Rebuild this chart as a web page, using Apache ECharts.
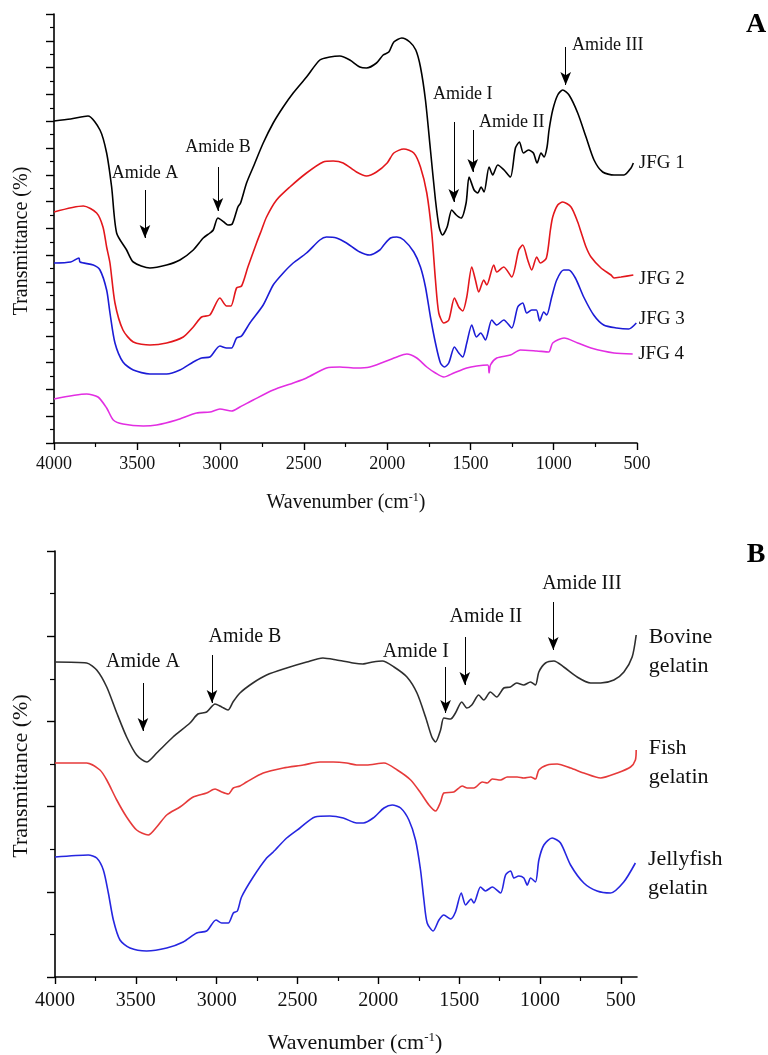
<!DOCTYPE html>
<html>
<head>
<meta charset="utf-8">
<script src="https://cdn.jsdelivr.net/npm/echarts@6/dist/echarts.min.js"></script>
<style>html,body{margin:0;padding:0;background:#fff;}#c{width:768px;height:1055px;}</style>
</head>
<body>
<div id="c"></div>
<script>
// ---------- Panel A data: [wavenumber (cm-1), transmittance (arb. units)] ----------
const jfg1 = [[4000,322],[3900,324],[3796,327],[3724,313],[3684,290],[3654,256],[3624,210],[3564,193],[3524,181],[3424,175],[3324,178],[3244,183],[3164,193],[3104,205],[3064,210],[3044,213],[3016,225],[2980,221],[2956,218],[2930,219],[2896,236],[2880,240],[2844,260],[2804,276],[2744,300],[2684,320],[2624,336],[2564,350],[2484,366],[2404,383],[2344,386],[2284,387],[2224,383],[2164,376],[2124,375],[2064,380],[2024,388],[1990,391],[1960,401],[1912,405],[1864,401],[1828,393],[1800,376],[1770,343],[1740,293],[1710,243],[1688,216],[1668,208],[1640,216],[1612,233],[1585,228],[1556,225],[1526,240],[1508,266],[1478,253],[1456,250],[1436,256],[1418,251],[1388,276],[1366,268],[1336,278],[1298,273],[1260,266],[1230,295],[1206,301],[1182,290],[1152,293],[1122,290],[1100,280],[1076,290],[1058,286],[1040,296],[1028,313],[1006,333],[976,348],[946,353],[908,348],[856,330],[806,306],[758,283],[706,271],[638,268],[578,268],[536,275],[522,280]];
const jfg2 = [[4000,231],[3824,237],[3744,230],[3706,216],[3684,196],[3664,180],[3634,140],[3586,113],[3524,101],[3424,98],[3324,100],[3224,106],[3164,116],[3114,126],[3064,128],[3004,145],[2964,137],[2938,137],[2904,155],[2874,157],[2836,176],[2784,200],[2754,213],[2724,226],[2664,243],[2584,256],[2484,270],[2384,281],[2324,282],[2264,280],[2184,271],[2124,267],[2064,271],[2000,280],[1960,290],[1900,294],[1840,290],[1800,276],[1762,250],[1732,210],[1710,163],[1690,130],[1660,120],[1630,123],[1596,145],[1570,136],[1546,132],[1522,146],[1492,176],[1470,163],[1450,151],[1420,163],[1402,158],[1360,178],[1342,171],[1300,176],[1252,166],[1210,193],[1186,198],[1156,183],[1132,173],[1102,186],[1080,180],[1044,185],[1020,213],[1006,226],[976,238],[946,241],[896,236],[856,221],[836,211],[806,196],[776,186],[716,175],[656,168],[638,165],[596,166],[522,168]];
const jfg3 = [[4000,180],[3900,181],[3850,185],[3844,181],[3764,178],[3724,173],[3684,153],[3664,130],[3634,100],[3586,81],[3524,73],[3424,69],[3324,69],[3244,73],[3164,81],[3114,85],[3064,86],[3004,97],[2964,95],[2934,95],[2904,105],[2874,107],[2824,120],[2744,138],[2684,158],[2624,170],[2564,180],[2484,190],[2404,203],[2364,206],[2304,205],[2244,200],[2164,191],[2104,188],[2044,193],[2020,198],[1980,205],[1942,206],[1900,203],[1840,191],[1800,176],[1770,156],[1740,126],[1710,100],[1680,80],[1656,76],[1630,80],[1596,96],[1570,90],[1546,86],[1522,100],[1492,118],[1464,106],[1438,110],[1410,103],[1372,123],[1342,118],[1300,123],[1252,115],[1216,136],[1186,140],[1162,130],[1132,133],[1104,133],[1084,122],[1060,131],[1042,128],[1012,146],[982,163],[940,173],[910,173],[870,165],[820,146],[760,128],[700,118],[622,115],[550,114],[504,120]];
const jfg4 = [[4000,44],[3804,49],[3736,46],[3684,35],[3644,23],[3586,19],[3464,17],[3384,18],[3264,23],[3144,30],[3064,31],[3004,34],[2934,32],[2884,36],[2804,43],[2684,53],[2564,60],[2484,65],[2364,75],[2284,76],[2184,75],[2104,76],[2020,81],[1942,86],[1882,89],[1822,85],[1762,76],[1710,70],[1660,66],[1600,70],[1522,75],[1462,77],[1396,78],[1388,70],[1380,78],[1342,85],[1260,88],[1200,93],[1102,92],[1030,91],[1006,100],[938,105],[856,100],[776,95],[638,90],[526,89]];

// ---------- Panel B data ----------
const bovine = [[4000,315],[3804,314],[3742,307],[3680,290],[3618,264],[3557,240],[3495,222],[3433,215],[3371,224],[3270,240],[3165,254],[3116,263],[3062,265],[3010,273],[2969,270],[2930,267],[2899,275],[2856,284],[2776,294],[2691,302],[2567,309],[2443,315],[2343,319],[2258,317],[2157,314],[2096,313],[2034,315],[1975,316],[1903,310],[1823,300],[1761,284],[1708,260],[1669,240],[1646,235],[1615,247],[1595,259],[1553,258],[1523,264],[1484,275],[1453,269],[1422,272],[1379,282],[1348,277],[1307,285],[1268,280],[1224,289],[1183,290],[1144,294],[1101,292],[1059,295],[1028,292],[1007,305],[966,314],[914,316],[853,310],[770,300],[687,294],[625,294],[543,297],[481,305],[430,320],[405,342]];
const fish = [[4000,214],[3804,214],[3722,207],[3680,197],[3618,177],[3557,160],[3495,147],[3423,142],[3371,150],[3309,162],[3227,170],[3145,180],[3062,184],[3010,188],[2969,185],[2928,183],[2897,189],[2856,191],[2815,195],[2712,204],[2588,209],[2464,212],[2361,215],[2279,215],[2196,214],[2134,212],[2073,212],[1965,214],[1883,207],[1800,197],[1738,184],[1687,172],[1646,166],[1615,175],[1595,184],[1533,185],[1481,191],[1450,189],[1409,189],[1357,195],[1326,194],[1295,198],[1244,197],[1203,200],[1141,200],[1100,199],[1058,200],[1028,198],[1007,207],[955,212],[894,213],[811,209],[729,204],[625,199],[522,204],[440,210],[410,217],[405,227]];
const jellyfish = [[4000,120],[3794,122],[3742,119],[3701,107],[3670,84],[3639,57],[3598,37],[3536,29],[3433,26],[3309,29],[3207,35],[3124,44],[3062,46],[3004,57],[2969,54],[2928,54],[2897,64],[2872,66],[2846,80],[2774,100],[2691,119],[2650,125],[2567,139],[2485,149],[2392,160],[2300,161],[2217,159],[2134,154],[2093,154],[2032,159],[1965,169],[1914,172],[1862,169],[1811,157],[1770,137],[1739,107],[1718,77],[1698,54],[1661,46],[1625,57],[1595,62],[1553,58],[1523,65],[1487,84],[1460,72],[1426,78],[1409,74],[1368,90],[1337,86],[1295,90],[1244,84],[1213,102],[1182,106],[1161,99],[1131,101],[1100,99],[1079,92],[1058,99],[1028,95],[1007,117],[976,132],[925,139],[873,134],[811,112],[729,94],[647,86],[564,84],[482,95],[410,114]];

// ---------- Tick labels ----------
const xTicksA = [500,1000,1500,2000,2500,3000,3500,4000];
const xTicksB = [500,1000,1500,2000,2500,3000,3500,4000];
const xMinorB = [750,1250,1750,2250,2750,3250,3750];

// ---------- Series names & label anchors [wavenumber, value] ----------
const namesA = ['JFG 1','JFG 2','JFG 3','JFG 4'];
const labelAnchorA = [[522,280],[522,164],[522,124],[526,89]];
const namesB = ['Bovine\ngelatin','Fish\ngelatin','Jellyfish\ngelatin'];
const labelAnchorB = [[405,325],[405,214],[410,103]];

// ---------- Annotations [text, textW, textV, arrowW, arrowFrom, arrowTo] ----------
const annotA = [
  ['Amide A',3454,270,3454,253,205],
  ['Amide B',3016,296,3016,276,232],
  ['Amide I',1546,349,1600,321,241],
  ['Amide II',1252,321,1486,313,271],
  ['Amide III',676,398,928,396,358]
];
const annotB = [
  ['Amide A',3456,315,3456,294,246],
  ['Amide B',2825,340,3029,322,274],
  ['Amide I',1768,325,1584,310,264],
  ['Amide II',1335,360,1465,340,292],
  ['Amide III',741,393,918,375,327]
];

const FONT = '"Liberation Serif","Times New Roman",serif';
const INK = '#111';
const plain = v => String(v);

function arrows(list){
  return {
    silent:true, symbol:['none','arrow'], symbolSize:[8,13], animation:false,
    lineStyle:{color:'#000',width:1,type:'solid'}, label:{show:false}, emphasis:{disabled:true},
    data: list.map(a=>[{coord:[a[3],a[4]]},{coord:[a[3],a[5]]}])
  };
}
function markPts(items){
  return {silent:true, symbol:'rect', symbolSize:1, animation:false, itemStyle:{color:'rgba(0,0,0,0)'},
    label:{show:true, formatter:'{b}', color:INK, fontFamily:FONT}, emphasis:{disabled:true}, data:items};
}

const colorsA = ['#000000','#e3171c','#1c1cd6','#e22ee2'];
const colorsB = ['#2e2e2e','#e63a3a','#2626e0'];
const dataA = [jfg1,jfg2,jfg3,jfg4];
const dataB = [bovine,fish,jellyfish];

const series = [];
dataA.forEach((d,i)=>{
  const pts = [{name:namesA[i], coord:labelAnchorA[i], label:{position:'right',distance:5,fontSize:19}}];
  if(i===0) annotA.forEach(a=>pts.push({name:a[0], coord:[a[1],a[2]], label:{position:'inside',fontSize:18}}));
  series.push({type:'line', name:namesA[i], xAxisIndex:0, yAxisIndex:0, data:d, showSymbol:false,
    smooth:0.25, lineStyle:{color:colorsA[i],width:1.6}, itemStyle:{color:colorsA[i]}, animation:false, silent:true,
    markPoint: markPts(pts), markLine: i===0 ? arrows(annotA) : undefined});
});
dataB.forEach((d,i)=>{
  const pts = [{name:namesB[i], coord:labelAnchorB[i], label:{position:'right',distance:12,fontSize:22,lineHeight:29,align:'left'}}];
  if(i===0) annotB.forEach(a=>pts.push({name:a[0], coord:[a[1],a[2]], label:{position:'inside',fontSize:20}}));
  series.push({type:'line', name:namesB[i].replace('\n',' '), xAxisIndex:1, yAxisIndex:1, data:d, showSymbol:false,
    smooth:0.25, lineStyle:{color:colorsB[i],width:1.6}, itemStyle:{color:colorsB[i]}, animation:false, silent:true,
    markPoint: markPts(pts), markLine: i===0 ? arrows(annotB) : undefined});
});

const axLine = {show:true, lineStyle:{color:'#000', width:1.6}};
const option = {
  animation:false,
  backgroundColor:'#fff',
  grid:[
    {left:54, top:14, width:583, height:429},
    {left:55, top:551, width:582, height:426}
  ],
  xAxis:[
    {type:'value', gridIndex:0, min:500, max:4000, interval:500, inverse:true, position:'bottom',
     axisLine:axLine, splitLine:{show:false},
     axisTick:{show:true, inside:false, length:7, lineStyle:{color:'#000',width:1.4}},
     minorTick:{show:true, splitNumber:2, length:4, lineStyle:{color:'#000',width:1.2}},
     axisLabel:{show:true, margin:12, color:INK, fontFamily:FONT, fontSize:18, showMinLabel:true, showMaxLabel:true,
       customValues:xTicksA, formatter:plain}},
    {type:'value', gridIndex:1, min:400, max:4000, inverse:true, position:'bottom',
     axisLine:axLine, splitLine:{show:false},
     axisTick:{show:true, inside:false, length:7, lineStyle:{color:'#000',width:1.4}, customValues:xTicksB},
     axisLabel:{show:true, margin:14, color:INK, fontFamily:FONT, fontSize:20, customValues:xTicksB, formatter:plain}},
    {type:'value', gridIndex:1, min:400, max:4000, inverse:true, position:'bottom',
     axisLine:{show:false}, splitLine:{show:false},
     axisTick:{show:true, inside:false, length:4, lineStyle:{color:'#000',width:1.2}, customValues:xMinorB},
     axisLabel:{show:false}}
  ],
  yAxis:[
    {type:'value', gridIndex:0, min:0, max:429, interval:26.8125, position:'left',
     axisLine:axLine, splitLine:{show:false}, axisLabel:{show:false},
     axisTick:{show:true, inside:false, length:8, lineStyle:{color:'#000',width:1.4}},
     minorTick:{show:true, splitNumber:2, length:4, lineStyle:{color:'#000',width:1.2}}},
    {type:'value', gridIndex:1, min:0, max:426, interval:85.2, position:'left',
     axisLine:axLine, splitLine:{show:false}, axisLabel:{show:false},
     axisTick:{show:true, inside:false, length:8, lineStyle:{color:'#000',width:1.4}},
     minorTick:{show:true, splitNumber:2, length:5, lineStyle:{color:'#000',width:1.2}}}
  ],
  graphic:[
    {type:'text', x:22, y:241, rotation:Math.PI/2, silent:true,
     style:{text:'Transmittance (%)', fontFamily:FONT, fontSize:20, fill:INK, align:'center', verticalAlign:'middle'}},
    {type:'text', x:21, y:776, rotation:Math.PI/2, silent:true,
     style:{text:'Transmittance (%)', fontFamily:FONT, fontSize:22, fill:INK, align:'center', verticalAlign:'middle'}},
    {type:'text', x:346, y:503, silent:true,
     style:{text:'Wavenumber (cm{s|-1})', fontFamily:FONT, fontSize:20, fill:INK, align:'center', verticalAlign:'middle',
       rich:{s:{fontFamily:FONT, fontSize:12, fill:INK, verticalAlign:'top', padding:[0,0,10,0]}}}},
    {type:'text', x:355, y:1043, silent:true,
     style:{text:'Wavenumber (cm{s|-1})', fontFamily:FONT, fontSize:22, fill:INK, align:'center', verticalAlign:'middle',
       rich:{s:{fontFamily:FONT, fontSize:13, fill:INK, verticalAlign:'top', padding:[0,0,11,0]}}}},
    {type:'text', x:756, y:25, silent:true,
     style:{text:'A', fontFamily:FONT, fontSize:28, fontWeight:'bold', fill:'#000', align:'center', verticalAlign:'middle'}},
    {type:'text', x:756, y:555, silent:true,
     style:{text:'B', fontFamily:FONT, fontSize:28, fontWeight:'bold', fill:'#000', align:'center', verticalAlign:'middle'}}
  ],
  series: series
};
const chart = echarts.init(document.getElementById('c'), null, {renderer:'canvas'});
chart.setOption(option);
</script>
</body>
</html>
